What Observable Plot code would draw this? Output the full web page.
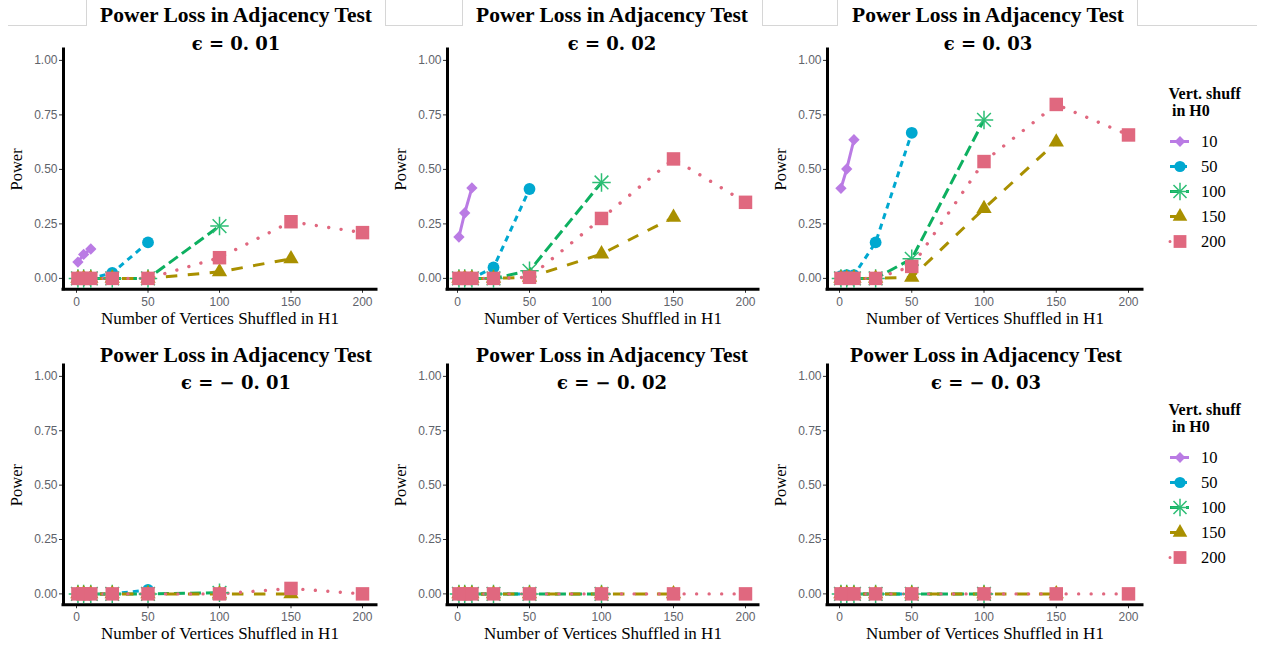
<!DOCTYPE html>
<html>
<head>
<meta charset="utf-8">
<script src="https://cdn.jsdelivr.net/npm/d3@7"></script>
<script src="https://cdn.jsdelivr.net/npm/@observablehq/plot@0.6"></script>
<style>
  body { margin: 0; background: #fff; }
  #root { position: relative; width: 1263px; height: 649px; overflow: hidden; background: #fff; }
  #root svg { position: absolute; }
  .title { position: absolute; white-space: nowrap; transform: translateX(-50%); color: #000; line-height: 1; }
  .t1 { font-family: "Liberation Serif", serif; font-weight: bold; font-size: 21.5px; }
  .t2 { font-family: "DejaVu Serif", serif; font-weight: bold; font-size: 18px; }
  .cell { position: absolute; top: 0; height: 26px; box-sizing: border-box; border-bottom: 1px solid #d6d6d6; }
</style>
</head>
<body>
<div id="root"></div>
<script>
// ---------------- data ----------------
const seriesNames = ["10", "50", "100", "150", "200"];
const shuffledH1_10  = [1, 5, 10];
const shuffledH1_50  = [1, 5, 10, 25, 50];
const shuffledH1_100 = [1, 5, 10, 25, 50, 100];
const shuffledH1_150 = [1, 5, 10, 25, 50, 100, 150];
const shuffledH1_200 = [1, 5, 10, 25, 50, 100, 150, 200];
const xTicks = [0, 50, 100, 150, 200];
const yTicks = [0, 0.25, 0.5, 0.75, 1];
const panelTitle = "Power Loss in Adjacency Test";
const epsilonLabels = ["ϵ = 0. 01", "ϵ = 0. 02", "ϵ = 0. 03", "ϵ = − 0. 01", "ϵ = − 0. 02", "ϵ = − 0. 03"];
const xLabel = "Number of Vertices Shuffled in H1";
const yLabel = "Power";
const legendTitle1 = "Vert. shuff";
const legendTitle2 = "in H0";

// power, one inner array per panel (ε = .01, .02, .03, -.01, -.02, -.03)
const power10 = [
  [0.075, 0.11, 0.135],
  [0.19, 0.30, 0.415],
  [0.413, 0.502, 0.636],
  [0, 0, 0], [0, 0, 0], [0, 0, 0]
];
const power50 = [
  [0, 0, 0, 0.025, 0.165],
  [0, 0, 0, 0.05, 0.41],
  [0.01, 0.015, 0.015, 0.165, 0.668],
  [0, 0, 0, 0, 0.018], [0, 0, 0, 0, 0], [0, 0, 0, 0, 0]
];
const power100 = [
  [0, 0, 0, 0, 0, 0.24],
  [0, 0, 0, 0, 0.035, 0.44],
  [0, 0, 0, 0, 0.09, 0.727],
  [0, 0, 0, 0, 0, 0.005], [0, 0, 0, 0, 0, 0], [0, 0, 0, 0, 0, 0]
];
const power150 = [
  [0, 0, 0, 0, 0, 0.03, 0.09],
  [0, 0, 0, 0, 0.005, 0.112, 0.28],
  [0, 0, 0, 0, 0.005, 0.32, 0.625],
  [0, 0, 0, 0, 0, 0, 0], [0, 0, 0, 0, 0, 0, 0], [0, 0, 0, 0, 0, 0, 0]
];
const power200 = [
  [0, 0, 0, 0, 0, 0.095, 0.26, 0.21],
  [0, 0, 0, 0, 0.005, 0.275, 0.548, 0.349],
  [0, 0, 0, 0, 0.055, 0.536, 0.798, 0.658],
  [0, 0, 0, 0, 0, 0, 0.025, 0],
  [0, 0, 0, 0, 0, 0, 0, 0],
  [0, 0, 0, 0, 0, 0, 0, 0]
];

// ---------------- styles / layout ----------------
const xBySeries = {"10": shuffledH1_10, "50": shuffledH1_50, "100": shuffledH1_100, "150": shuffledH1_150, "200": shuffledH1_200};
const powBySeries = {"10": power10, "50": power50, "100": power100, "150": power150, "200": power200};
const st = {
  "10":  {color: "#BA7BE4", dash: null,        cap: "butt",  width: 3,   symbol: "diamond2", r: 5.1},
  "50":  {color: "#00A8D0", dash: "6,5",       cap: "butt",  width: 3,   symbol: "circle",   r: 5.9},
  "100": {color: "#0DB060", dash: "11,5",      cap: "butt",  width: 3,   symbol: "asterisk", r: 6, sym: "#2DBE75"},
  "150": {color: "#A99000", dash: "11.5,10.5", cap: "butt",  width: 3,   symbol: "triangle", r: 5.7},
  "200": {color: "#E0687F", dash: "0.01,12.5", cap: "round", width: 3.4, symbol: "square",   r: 7.6}
};
const geom = [
  {axisX: 63,  x0: 76,  x200: 362,  xEnd: 376,  y1: 60,  y0: 278},
  {axisX: 447, x0: 457, x200: 745,  xEnd: 758,  y1: 60,  y0: 278},
  {axisX: 827, x0: 839, x200: 1128, xEnd: 1142, y1: 60,  y0: 278},
  {axisX: 63,  x0: 76,  x200: 362,  xEnd: 376,  y1: 376, y0: 593.5},
  {axisX: 447, x0: 457, x200: 745,  xEnd: 758,  y1: 376, y0: 593.5},
  {axisX: 827, x0: 839, x200: 1128, xEnd: 1142, y1: 376, y0: 593.5}
];
const titlePos = [
  {cx: 236, b1: 23, b2: 50}, {cx: 612, b1: 23, b2: 50}, {cx: 988, b1: 23, b2: 50},
  {cx: 236, b1: 363, b2: 389}, {cx: 612, b1: 363, b2: 389}, {cx: 986, b1: 363, b2: 389}
];

function rowsFor(p) {
  return seriesNames.flatMap(s => xBySeries[s].map((x, j) => ({series: s, x, power: powBySeries[s][p][j]})));
}

function dotMarks(data, s, scale = 1) {
  const o = st[s];
  if (o.symbol === "asterisk") {
    return [
      Plot.dot(data, {x: "x", y: "power", symbol: "plus", r: o.r * scale, stroke: o.sym, strokeWidth: 1.5}),
      Plot.dot(data, {x: "x", y: "power", symbol: "times", r: o.r * 1.05 * scale, stroke: o.sym, strokeWidth: 1.5})
    ];
  }
  return [Plot.dot(data, {x: "x", y: "power", symbol: o.symbol, r: o.r * scale, fill: o.color, stroke: "none"})];
}

function panelPlot(p) {
  const g = geom[p];
  const sx = (g.x200 - g.x0) / 200;
  const xmin = -(g.x0 - g.axisX) / sx, xmax = 200 + (g.xEnd - g.x200) / sx;
  const sy = g.y0 - g.y1;
  const yTop = g.y1 - 0.05 * sy, yBot = g.y0 + 0.05 * sy;
  const left = g.axisX - 63, top = yTop - 30;
  const width = Math.round(g.xEnd - left + 8);
  const height = Math.round(yBot - top + 45);
  const rows = rowsFor(p);
  const marks = [];
  for (const s of seriesNames) {
    const d = rows.filter(r => r.series === s);
    marks.push(Plot.line(d, {x: "x", y: "power", stroke: st[s].color, strokeWidth: st[s].width, strokeDasharray: st[s].dash, strokeLinecap: st[s].cap}));
  }
  for (const s of seriesNames) marks.push(...dotMarks(rows.filter(r => r.series === s), s));
  const svg = Plot.plot({
    width, height,
    marginLeft: g.axisX - left,
    marginRight: width - (g.xEnd - left),
    marginTop: yTop - top,
    marginBottom: height - (yBot - top),
    x: {domain: [xmin, xmax]},
    y: {domain: [-0.05, 1.05]},
    style: {background: "transparent", overflow: "visible", fontFamily: "Liberation Sans, Arial, sans-serif"},
    marks: [
      Plot.axisY({ticks: yTicks, tickFormat: d3.format(".2f"), tickSize: 4, tickPadding: 2, fontSize: 12, fill: "#5f636b", stroke: "#333", label: null}),
      Plot.axisX({ticks: xTicks, tickFormat: d3.format("d"), tickSize: 4, tickPadding: 4, fontSize: 12, fill: "#5f636b", stroke: "#333", label: null}),
      Plot.ruleX([xmin], {stroke: "#000", strokeWidth: 3, strokeLinecap: "square"}),
      Plot.ruleY([-0.05], {stroke: "#000", strokeWidth: 3, strokeLinecap: "square"}),
      Plot.text([xLabel], {text: d => d, frameAnchor: "bottom", lineAnchor: "middle", textAnchor: "middle", dy: 29, fontFamily: "Liberation Serif, serif", fontSize: 17, fill: "#000"}),
      Plot.text([yLabel], {text: d => d, frameAnchor: "left", lineAnchor: "middle", textAnchor: "middle", dx: -47, rotate: -90, fontFamily: "Liberation Serif, serif", fontSize: 16.5, fill: "#000"}),
      ...marks
    ]
  });
  svg.style.left = left + "px";
  svg.style.top = top + "px";
  return svg;
}

function legendPlot(top) {
  const marks = [
    Plot.text([legendTitle1], {text: d => d, frameAnchor: "top-left", lineAnchor: "middle", dx: 18, dy: 23, textAnchor: "start", fontFamily: "Liberation Serif, serif", fontWeight: "bold", fontSize: 16, fill: "#000"}),
    Plot.text([legendTitle2], {text: d => d, frameAnchor: "top-left", lineAnchor: "middle", dx: 21.5, dy: 40, textAnchor: "start", fontFamily: "Liberation Serif, serif", fontWeight: "bold", fontSize: 16, fill: "#000"})
  ];
  for (const s of seriesNames) {
    marks.push(Plot.ruleY([s], {x1: 20, x2: 39, stroke: st[s].color, strokeWidth: 3, strokeDasharray: st[s].dash, strokeLinecap: st[s].cap}));
  }
  for (const s of seriesNames) {
    marks.push(...dotMarks([{x: 29.5, power: s}], s, 0.95));
  }
  marks.push(Plot.text(seriesNames, {x: 50.5, y: d => d, text: d => d, textAnchor: "start", lineAnchor: "middle", fontFamily: "Liberation Serif, serif", fontSize: 16.5, fill: "#000"}));
  const svg = Plot.plot({
    width: 113, height: 190, margin: 0,
    x: {domain: [0, 113], range: [0, 113], axis: null},
    y: {type: "point", domain: seriesNames, range: [70, 171.7], padding: 0, axis: null},
    style: {background: "transparent", overflow: "visible"},
    marks
  });
  svg.style.left = "1150px";
  svg.style.top = top + "px";
  return svg;
}

// ---------------- assemble ----------------
const root = document.getElementById("root");
// light table-cell borders from the source layout
[[8, 87, false, true], [385, 463, true, true], [762, 838, true, true], [1137, 1257, true, false]].forEach(([a, b, l, r]) => {
  const c = document.createElement("div");
  c.className = "cell";
  c.style.left = a + "px";
  c.style.width = (b - a) + "px";
  if (l) c.style.borderLeft = "1px solid #d6d6d6";
  if (r) c.style.borderRight = "1px solid #d6d6d6";
  root.appendChild(c);
});
for (let p = 0; p < 6; p++) root.appendChild(panelPlot(p));
root.appendChild(legendPlot(70));
root.appendChild(legendPlot(386));
titlePos.forEach((t, p) => {
  const a = document.createElement("div");
  a.className = "title t1";
  a.textContent = panelTitle;
  a.style.left = t.cx + "px";
  a.style.top = (t.b1 - 17.8) + "px";
  root.appendChild(a);
  const b = document.createElement("div");
  b.className = "title t2";
  b.textContent = epsilonLabels[p];
  b.style.left = t.cx + "px";
  b.style.top = (t.b2 - 15.2) + "px";
  root.appendChild(b);
});
</script>
</body>
</html>
